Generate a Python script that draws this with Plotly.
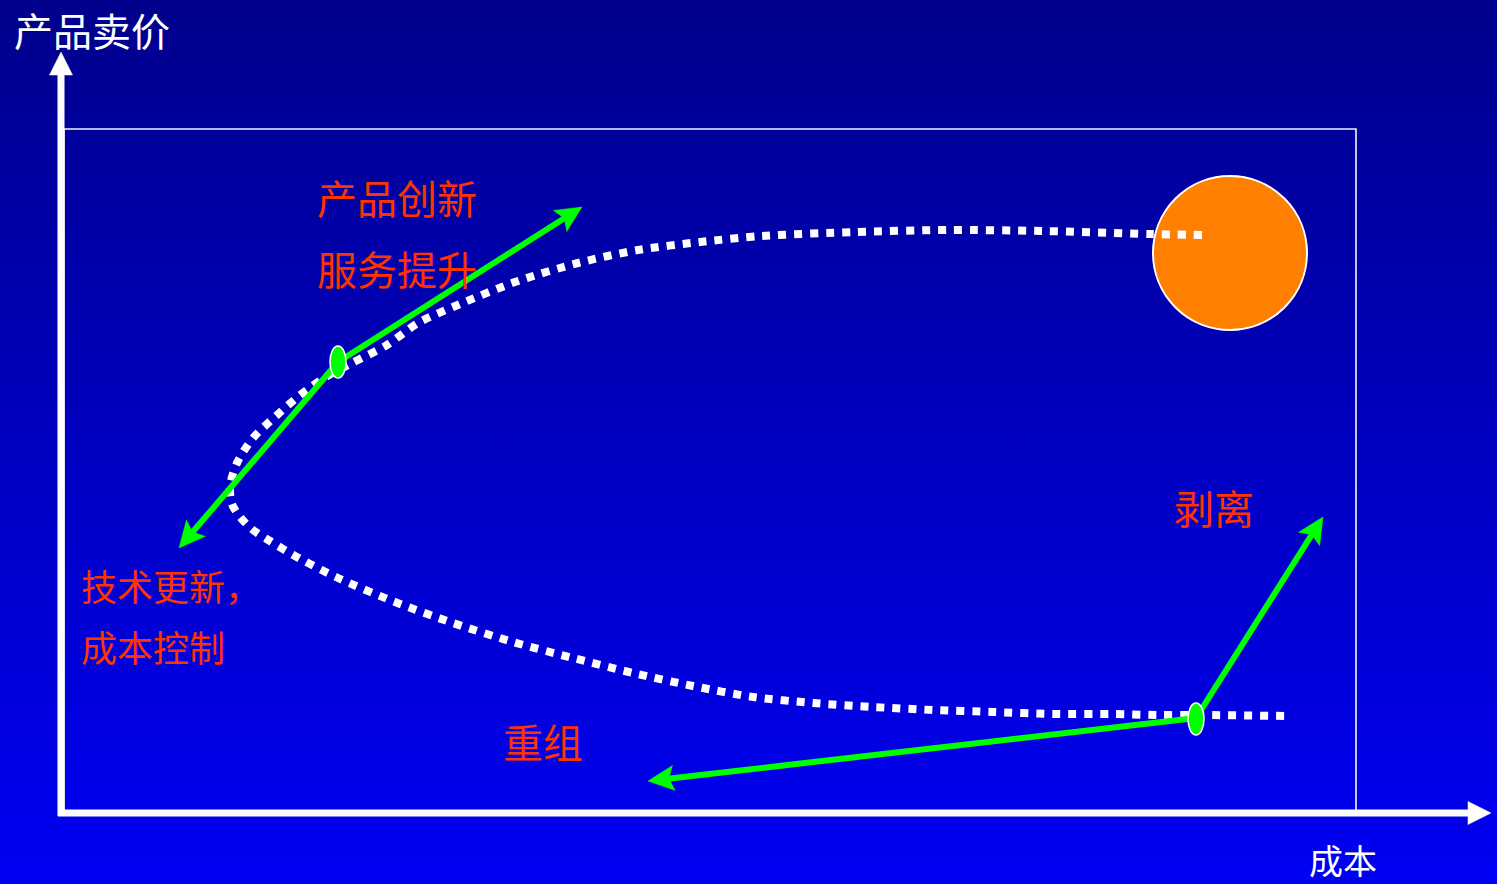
import base64
import numpy as np
import plotly.graph_objects as go

W, H = 1497, 884

# ---- data (pixel space of the diagram) ----
curve_x = [1202, 1150, 1042, 948, 855, 762, 700, 638, 578, 518, 460, 418, 387, 352,
           324, 299, 276, 253, 237, 230, 232, 240, 253, 270, 295, 338, 395, 453, 513,
           573, 633, 693, 753, 813, 873, 933, 993, 1053, 1113, 1157, 1200, 1287]
curve_y = [235, 234, 231, 230, 232, 236, 242, 250, 263, 281, 304, 323, 345, 363,
           378, 396, 416, 438, 463, 486, 504, 517, 530, 541, 556, 578, 602, 623, 642,
           658, 673, 686, 697, 703, 707, 710, 712, 714, 714, 715, 715, 716]

arrow_start_x = [338, 338, 1196, 1196]
arrow_start_y = [362, 362, 718, 718]
arrow_end_x = [582, 179, 1323, 648]
arrow_end_y = [207, 548, 517, 781]

node_x = [338, 1196]
node_y = [362, 719]

sun_x, sun_y, sun_r = 1230, 253, 77

axis_origin = (61, 813)
y_axis_tip = (61, 52)
x_axis_tip = (1491, 813)
frame_x = [64, 1356, 1356, 64, 64]
frame_y = [129, 129, 812, 812, 129]

label_texts = ["产品创新", "服务提升", "技术更新，", "成本控制", "剥离", "重组"]
label_x = [315, 315, 79, 79, 1172, 501]
label_y = [197, 268, 585, 646, 507, 741]
label_size = [40, 40, 36, 36, 40, 40]

y_title = "产品卖价"
x_title = "成本"

GREEN = "#00FF00"
RED = "#FF3300"
WHITE = "#FFFFFF"
FONT = "Noto Sans CJK SC"

fig = go.Figure()


def arrow(x0, y0, x1, y1, lw, hl, hw, notch, color):
    dx, dy = x1 - x0, y1 - y0
    L = (dx * dx + dy * dy) ** 0.5
    ux, uy = dx / L, dy / L
    px, py = -uy, ux
    bx, by = x1 - ux * hl, y1 - uy * hl
    nx, ny = bx + ux * notch, by + uy * notch
    fig.add_trace(go.Scatter(x=[x0, nx + ux * 1], y=[y0, ny + uy * 1], mode="lines",
                             line=dict(color=color, width=lw), hoverinfo="skip",
                             showlegend=False))
    fig.add_trace(go.Scatter(
        x=[x1, bx + px * hw / 2, nx, bx - px * hw / 2, x1],
        y=[y1, by + py * hw / 2, ny, by - py * hw / 2, y1],
        mode="lines", fill="toself", fillcolor=color,
        line=dict(color=color, width=0.5), hoverinfo="skip", showlegend=False))


# frame
fig.add_trace(go.Scatter(x=frame_x, y=frame_y, mode="lines",
                         line=dict(color="#F4F4FF", width=1.6),
                         hoverinfo="skip", showlegend=False))

# dotted curve
fig.add_trace(go.Scatter(x=curve_x, y=curve_y, mode="lines",
                         line=dict(color=WHITE, width=8, dash="8px,8px",
                                   shape="spline", smoothing=0.8),
                         hoverinfo="skip", showlegend=False))

# axes
arrow(axis_origin[0], axis_origin[1] + 3, y_axis_tip[0], y_axis_tip[1], 7, 23, 23, 0, WHITE)
arrow(axis_origin[0] - 3, axis_origin[1], x_axis_tip[0], x_axis_tip[1], 7, 23, 23, 0, WHITE)

# green arrows
for sx, sy, ex, ey in zip(arrow_start_x, arrow_start_y, arrow_end_x, arrow_end_y):
    arrow(sx, sy, ex, ey, 6, 26, 25, 5, GREEN)

shapes = [
    dict(type="circle", xref="x", yref="y", layer="below",
         x0=sun_x - sun_r, x1=sun_x + sun_r, y0=sun_y - sun_r, y1=sun_y + sun_r,
         fillcolor="#FF8000", line=dict(color=WHITE, width=2)),
]
for cx, cy in zip(node_x, node_y):
    shapes.append(dict(type="circle", xref="x", yref="y", layer="above",
                       x0=cx - 8, x1=cx + 8, y0=cy - 16, y1=cy + 16,
                       fillcolor=GREEN, line=dict(color=WHITE, width=1.5)))

annotations = []
for t, x, y, s in zip(label_texts, label_x, label_y, label_size):
    annotations.append(dict(text=t, x=x, y=y, xref="x", yref="y", showarrow=False,
                            xanchor="left", yanchor="middle",
                            font=dict(family=FONT, size=s, color=RED)))
annotations.append(dict(text=y_title, x=12, y=29, xref="x", yref="y", showarrow=False,
                        xanchor="left", yanchor="middle",
                        font=dict(family=FONT, size=39, color=WHITE)))
annotations.append(dict(text=x_title, x=1307, y=859, xref="x", yref="y", showarrow=False,
                        xanchor="left", yanchor="middle",
                        font=dict(family=FONT, size=34, color=WHITE)))

svg = (f'<svg xmlns="http://www.w3.org/2000/svg" width="{W}" height="{H}" '
       f'preserveAspectRatio="none" viewBox="0 0 {W} {H}">'
       '<defs><linearGradient id="g" x1="0" y1="0" x2="0" y2="1">'
       '<stop offset="0" stop-color="#00008C"/><stop offset="1" stop-color="#0000F4"/>'
       '</linearGradient></defs>'
       f'<rect width="{W}" height="{H}" fill="url(#g)"/></svg>')
src = "data:image/svg+xml;base64," + base64.b64encode(svg.encode()).decode()

fig.update_layout(
    width=W, height=H,
    margin=dict(l=0, r=0, t=0, b=0),
    paper_bgcolor="#0000C0",
    plot_bgcolor="rgba(0,0,0,0)",
    xaxis=dict(range=[0, W], visible=False, fixedrange=True),
    yaxis=dict(range=[H, 0], visible=False, fixedrange=True),
    shapes=shapes,
    annotations=annotations,
    images=[dict(source=src, xref="paper", yref="paper", x=0, y=1,
                 sizex=1, sizey=1, sizing="stretch", layer="below",
                 xanchor="left", yanchor="top")],
    showlegend=False,
)

fig.write_html("out.html")
